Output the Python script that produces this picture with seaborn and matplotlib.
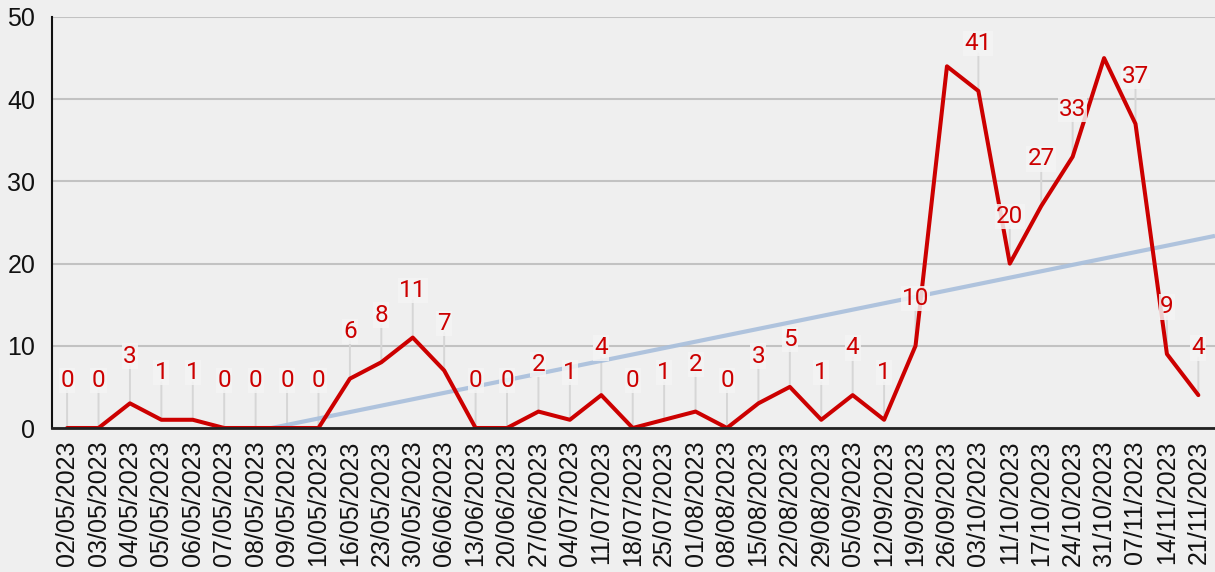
import numpy as np
import pandas as pd
import matplotlib
matplotlib.use("Agg")
import matplotlib.pyplot as plt
import seaborn as sns

dates = ["02/05/2023", "03/05/2023", "04/05/2023", "05/05/2023", "06/05/2023",
         "07/05/2023", "08/05/2023", "09/05/2023", "10/05/2023", "16/05/2023",
         "23/05/2023", "30/05/2023", "06/06/2023", "13/06/2023", "20/06/2023",
         "27/06/2023", "04/07/2023", "11/07/2023", "18/07/2023", "25/07/2023",
         "01/08/2023", "08/08/2023", "15/08/2023", "22/08/2023", "29/08/2023",
         "05/09/2023", "12/09/2023", "19/09/2023", "26/09/2023", "03/10/2023",
         "11/10/2023", "17/10/2023", "24/10/2023", "31/10/2023", "07/11/2023",
         "14/11/2023", "21/11/2023"]
values = [0, 0, 3, 1, 1, 0, 0, 0, 0, 6, 8, 11, 7, 0, 0, 2, 1, 4, 0, 1, 2, 0, 3, 5,
          1, 4, 1, 10, 44, 41, 20, 27, 33, 45, 37, 9, 4]
hidden_labels = ["26/09/2023", "31/10/2023"]
yticks = [0, 10, 20, 30, 40, 50]

BG = "#efefef"
RED = "#cc0000"
TREND = "#a8bfdc"

sns.set_theme(style="white")
plt.rcParams["font.family"] = ["Liberation Sans", "DejaVu Sans"]

df = pd.DataFrame({"pos": np.arange(len(dates)), "date": dates, "value": values})

fig = plt.figure(figsize=(12.15, 5.72), dpi=100, facecolor=BG)
W, H = 1215, 572
ax = fig.add_axes([52 / W, 1 - 428 / H, 1 - 52 / W, (428 - 17) / H])
ax.set_facecolor(BG)

# trend line (linear fit)
coef = np.polyfit(df["pos"], df["value"], 1)
xl = (-0.48, len(dates) - 0.47)
xt = np.array(xl)
ax.plot(xt, np.polyval(coef, xt), color=TREND, lw=3.0, alpha=0.9, zorder=3,
        solid_capstyle="butt")

sns.lineplot(data=df, x="pos", y="value", color=RED, lw=2.9, ax=ax, zorder=4)

for p, d, v in zip(df["pos"], df["date"], df["value"]):
    if d in hidden_labels:
        continue
    # leader line (below the series)
    ax.annotate("", xy=(p, v), xytext=(0, 27), textcoords="offset points",
                zorder=2,
                arrowprops=dict(arrowstyle="-", color="#d6d6d6", lw=1.4,
                                shrinkA=0, shrinkB=0))
    ax.annotate(str(v), xy=(p, v), xytext=(0, 34), textcoords="offset points",
                ha="center", va="center", color=RED, fontsize=17.5,
                family=["Roboto", "DejaVu Sans"], zorder=6,
                bbox=dict(boxstyle="square,pad=0.05", fc="#f4f4f4", ec="none", alpha=0.85))

ax.set_xlim(*xl)
ax.set_ylim(0, 50)
ax.set_yticks(yticks)
ax.set_xticks(df["pos"])
ax.set_xticklabels(dates, rotation=90, fontsize=18, color="#111111")
ax.tick_params(axis="y", labelsize=18, labelcolor="#111111", length=0, pad=12)
ax.tick_params(axis="x", length=0, pad=9)
ax.set_xlabel("")
ax.set_ylabel("")

ax.yaxis.grid(True, color="#c2c2c2", lw=1.5)
ax.set_axisbelow(True)
for s in ["top", "right"]:
    ax.spines[s].set_visible(False)
ax.spines["left"].set_color("#111111")
ax.spines["left"].set_linewidth(1.5)
ax.spines["bottom"].set_color("#222222")
ax.spines["bottom"].set_linewidth(2.0)
ax.spines["bottom"].set_zorder(5)

fig.savefig("out.png", dpi=100, facecolor=BG)
